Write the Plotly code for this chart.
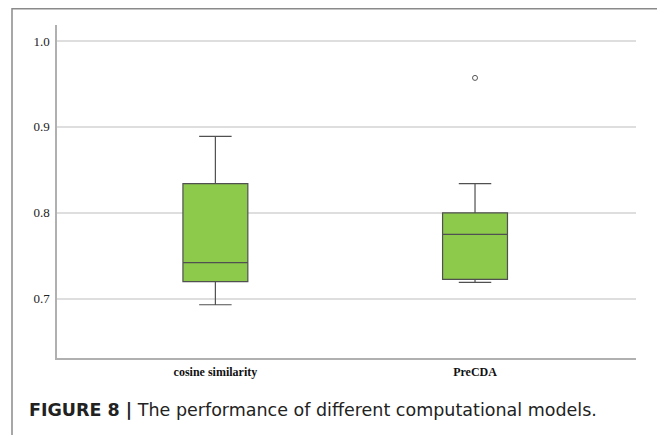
import plotly.graph_objects as go

categories = ["cosine similarity", "PreCDA"]
lower_whisker = [0.693, 0.719]
q1_values = [0.720, 0.7225]
medians = [0.742, 0.775]
q3_values = [0.834, 0.800]
upper_whisker = [0.889, 0.834]
outlier_category = ["PreCDA"]
outlier_values = [0.957]
y_ticks = [0.7, 0.8, 0.9, 1.0]
y_tick_labels = ["0.7", "0.8", "0.9", "1.0"]

# page body has an 8px margin; work in window pixels and shift
OFF = 8
W, H = 665 - OFF, 435 - OFF
L, R, T, B = 57 - OFF, 636 - OFF, 25 - OFF, 357.7 - OFF

fig = go.Figure()
fig.add_trace(go.Box(
    x=categories,
    q1=q1_values, median=medians, q3=q3_values,
    lowerfence=lower_whisker, upperfence=upper_whisker,
    fillcolor="#8dc94b",
    line=dict(color="#505050", width=1.2),
    width=0.25, whiskerwidth=0.5,
    boxpoints=False, showlegend=False, hoverinfo="skip",
))
fig.add_trace(go.Scatter(
    x=outlier_category, y=outlier_values, mode="markers",
    marker=dict(symbol="circle-open", size=5, color="#555555", line=dict(width=1)),
    showlegend=False, hoverinfo="skip",
))

def px_x(p):
    p = p - OFF
    return (p - L) / (R - L)

def px_y(p):
    p = p - OFF
    return (B - p) / (B - T)

fig.add_shape(type="rect", xref="paper", yref="paper",
              x0=px_x(12), x1=px_x(661), y0=px_y(450), y1=px_y(8.7),
              line=dict(color="#8a8a8a", width=1.5), fillcolor="rgba(0,0,0,0)", layer="below")

fig.add_annotation(
    xref="paper", yref="paper", x=px_x(27), y=px_y(410),
    xanchor="left", yanchor="middle", showarrow=False,
    text="<b>FIGURE 8 |</b> The performance of different computational models.",
    font=dict(family="DejaVu Sans, sans-serif", size=17.5, color="#222222"),
)

fig.update_layout(
    width=W, height=H,
    margin=dict(l=L, r=W - R, t=T, b=H - B, pad=0),
    paper_bgcolor="white", plot_bgcolor="white",
    font=dict(family="Liberation Serif, Times New Roman, serif", color="#222222"),
    xaxis=dict(
        type="category", range=[-0.61, 1.62],
        showline=True, linecolor="#b0b0b0", linewidth=1.5,
        showgrid=False, zeroline=False, ticks="",
        tickfont=dict(family="Liberation Serif, Times New Roman, serif", size=12, color="#111111"),
        ticklabelstandoff=2,
    ),
    yaxis=dict(
        range=[0.631, 1.0186],
        tickvals=y_ticks, ticktext=y_tick_labels,
        showline=True, linecolor="#b0b0b0", linewidth=1.5,
        showgrid=True, gridcolor="#dedede", gridwidth=1.5,
        zeroline=False, ticks="",
        tickfont=dict(family="Liberation Serif, Times New Roman, serif", size=13, color="#222222"),
        ticklabelstandoff=3,
    ),
)
fig.update_xaxes(tickprefix="<b>", ticksuffix="</b>")

fig.write_html("out.html")
